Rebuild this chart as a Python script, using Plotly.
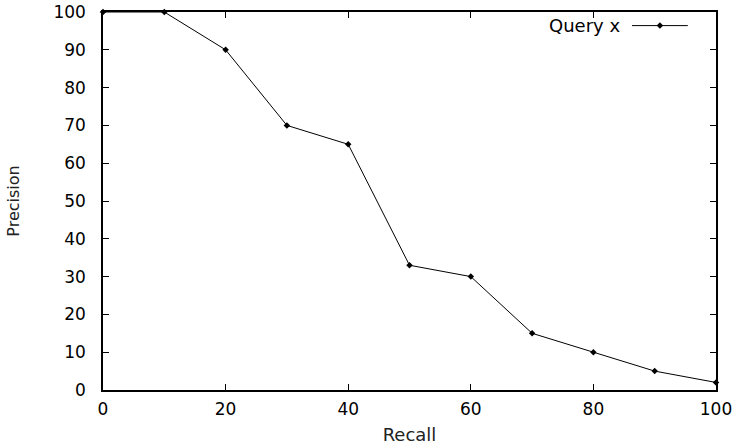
import plotly.graph_objects as go

recall = [0, 10, 20, 30, 40, 50, 60, 70, 80, 90, 100]
precision = [100, 100, 90, 70, 65, 33, 30, 15, 10, 5, 2]
series_name = "Query x"
x_ticks = [0, 20, 40, 60, 80, 100]
y_ticks = [0, 10, 20, 30, 40, 50, 60, 70, 80, 90, 100]

FONT = "DejaVu Sans, Liberation Sans, Arial, sans-serif"

fig = go.Figure()
fig.add_trace(go.Scatter(
    x=recall, y=precision, mode="lines+markers", name=series_name,
    line=dict(color="black", width=1),
    marker=dict(color="black", size=5, symbol="diamond"),
    showlegend=False, cliponaxis=False,
))

# legend drawn manually (text to the left of the sample, gnuplot style)
fig.add_annotation(x=0.847, y=0.964, xref="paper", yref="paper", text=series_name,
                   showarrow=False, xanchor="right", yanchor="middle",
                   font=dict(family=FONT, size=18, color="black"))
fig.add_shape(type="line", xref="paper", yref="paper", x0=0.863, x1=0.954,
              y0=0.964, y1=0.964, line=dict(color="black", width=1))
fig.add_trace(go.Scatter(x=[0.9085], y=[0.964], xaxis="x2", yaxis="y2", mode="markers",
                         marker=dict(color="black", size=5, symbol="diamond"),
                         showlegend=False, hoverinfo="skip"))

axis_common = dict(showline=True, linecolor="black", linewidth=1.5, mirror="ticks",
                   ticks="inside", ticklen=6, tickwidth=1, tickcolor="black",
                   showgrid=False, zeroline=False, automargin=False,
                   tickfont=dict(family=FONT, size=17, color="black"))

fig.update_layout(
    width=737, height=448,
    margin=dict(l=103, r=21, t=12, b=58),
    paper_bgcolor="white", plot_bgcolor="white",
    xaxis=dict(range=[0, 100], tickvals=x_ticks, ticktext=[str(v) for v in x_ticks],
               title=dict(text="Recall", font=dict(family=FONT, size=18, color="#222"), standoff=10),
               ticklabelstandoff=3, **axis_common),
    yaxis=dict(range=[0, 100], tickvals=y_ticks, ticktext=[str(v) for v in y_ticks],
               title=dict(text="Precision", font=dict(family=FONT, size=16, color="#222"), standoff=30),
               ticklabelstandoff=12, **axis_common),
    xaxis2=dict(range=[0, 1], overlaying="x", visible=False, fixedrange=True),
    yaxis2=dict(range=[0, 1], overlaying="y", visible=False, fixedrange=True),
    showlegend=False,
)

fig.write_html("out.html")
